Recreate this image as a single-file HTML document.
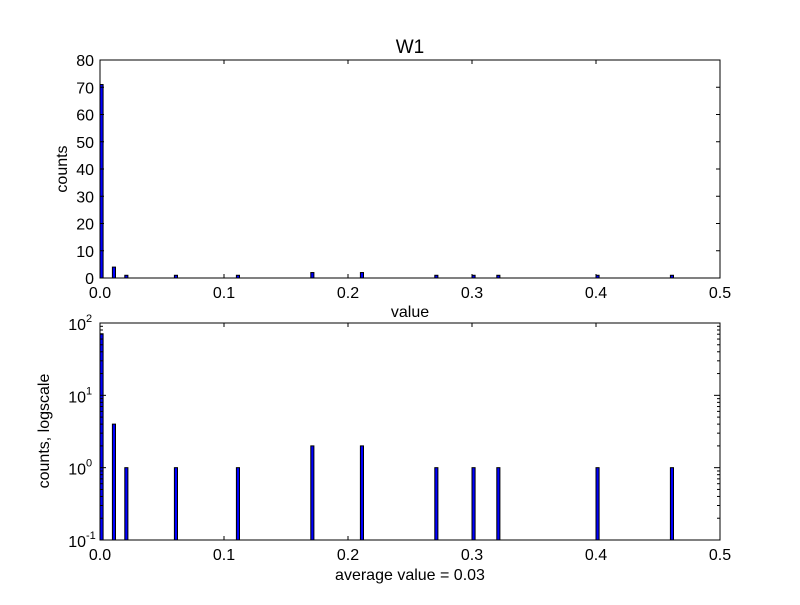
<!DOCTYPE html>
<html><head><meta charset="utf-8"><style>
body{margin:0;background:#fff}
svg text{font-family:"Liberation Sans","DejaVu Sans",sans-serif;fill:#000}
</style></head><body>
<svg id="c" width="800" height="600" xmlns="http://www.w3.org/2000/svg">
<rect width="800" height="600" fill="#fff"/>
</svg>
<script>
const binStarts = [0.0, 0.01, 0.02, 0.06, 0.11, 0.17, 0.21, 0.27, 0.30, 0.32, 0.40, 0.46];
const counts = [71, 4, 1, 1, 1, 2, 2, 1, 1, 1, 1, 1];
const binWidth = 0.0025;
const xTicks = [0, 0.1, 0.2, 0.3, 0.4, 0.5];
const xTickLabels = ["0.0", "0.1", "0.2", "0.3", "0.4", "0.5"];
const yTicksTop = [0, 10, 20, 30, 40, 50, 60, 70, 80];
const yTicksLogExp = [-1, 0, 1, 2];

const svg = document.getElementById('c');
const NS = 'http://www.w3.org/2000/svg';
function mk(tag, attrs, parent) {
  const e = document.createElementNS(NS, tag);
  for (const k in attrs) e.setAttribute(k, attrs[k]);
  (parent || svg).appendChild(e);
  return e;
}
const L = 100, R = 720;
const xs = v => L + (v / 0.5) * (R - L);
// top
const T1 = 60, B1 = 278;
const yTop = v => B1 - (v / 80) * (B1 - T1);
// bottom
const T2 = 323, B2 = 540;
const yLog = v => B2 - (Math.log10(v) + 1) / 3 * (B2 - T2);

function bars(yf, base, group) {
  binStarts.forEach((b, i) => {
    const x0 = xs(b), x1 = xs(b + binWidth), y = yf(counts[i]);
    const r = mk('rect', {x: x0, y: y, width: x1 - x0, height: base - y, fill: '#0000ff', stroke: '#000', 'stroke-width': 1}, group);
    
    
  });
}
function frame(T, B, name) {
  const f = mk('rect', {x: L, y: T, width: R - L, height: B - T, fill: 'none', stroke: '#000', 'stroke-width': 1});
  
  
}
function xAxis(T, B) {
  xTicks.forEach((t, i) => {
    const x = xs(t);
    mk('line', {x1: x, x2: x, y1: B, y2: B - 4, stroke: '#000'});
    mk('line', {x1: x, x2: x, y1: T, y2: T + 4, stroke: '#000'});
    const tx = mk('text', {x: x, y: B + 20, 'text-anchor': 'middle', 'font-size': 16});
    tx.textContent = xTickLabels[i];
    
    
  });
}
// top panel
const g1 = mk('g', {});


bars(yTop, B1, g1);
frame(T1, B1, 'top-axes-frame');
xAxis(T1, B1);
yTicksTop.forEach(t => {
  const y = yTop(t);
  mk('line', {x1: L, x2: L + 4, y1: y, y2: y, stroke: '#000'});
  mk('line', {x1: R, x2: R - 4, y1: y, y2: y, stroke: '#000'});
  const tx = mk('text', {x: L - 6, y: y + 6, 'text-anchor': 'end', 'font-size': 16});
  tx.textContent = t;
  
  
});
// bottom panel
const g2 = mk('g', {});


bars(yLog, B2, g2);
frame(T2, B2, 'bottom-axes-frame');
xAxis(T2, B2);
yTicksLogExp.forEach(e => {
  const y = yLog(Math.pow(10, e));
  mk('line', {x1: L, x2: L + 6, y1: y, y2: y, stroke: '#000'});
  mk('line', {x1: R, x2: R - 6, y1: y, y2: y, stroke: '#000'});
  if (e < 2) for (let m = 2; m < 10; m++) {
    const ym = yLog(m * Math.pow(10, e));
    mk('line', {x1: L, x2: L + 3, y1: ym, y2: ym, stroke: '#000'});
    mk('line', {x1: R, x2: R - 3, y1: ym, y2: ym, stroke: '#000'});
  }
  const tx = mk('text', {x: L - 14, y: y + 7, 'text-anchor': 'end', 'font-size': 16});
  tx.textContent = '10';
  
  
  const sp = mk('text', {x: L - 14, y: y - 1, 'text-anchor': 'start', 'font-size': 11});
  sp.textContent = e;
  
  
});
function label(txt, attrs, name) {
  const t = mk('text', attrs);
  t.textContent = txt;
  
  
}
label('W1', {x: 410, y: 53, 'text-anchor': 'middle', 'font-size': 19}, 'chart-title');
label('counts', {x: 67, y: 169, 'text-anchor': 'middle', 'font-size': 16, transform: 'rotate(-90 67 169)'}, 'top-y-axis-title');
label('value', {x: 410, y: 317, 'text-anchor': 'middle', 'font-size': 16}, 'top-x-axis-title');
label('counts, logscale', {x: 49, y: 431, 'text-anchor': 'middle', 'font-size': 16, transform: 'rotate(-90 49 431)'}, 'bottom-y-axis-title');
label('average value = 0.03', {x: 410, y: 580, 'text-anchor': 'middle', 'font-size': 16}, 'bottom-x-axis-title');
</script>
</body></html>
